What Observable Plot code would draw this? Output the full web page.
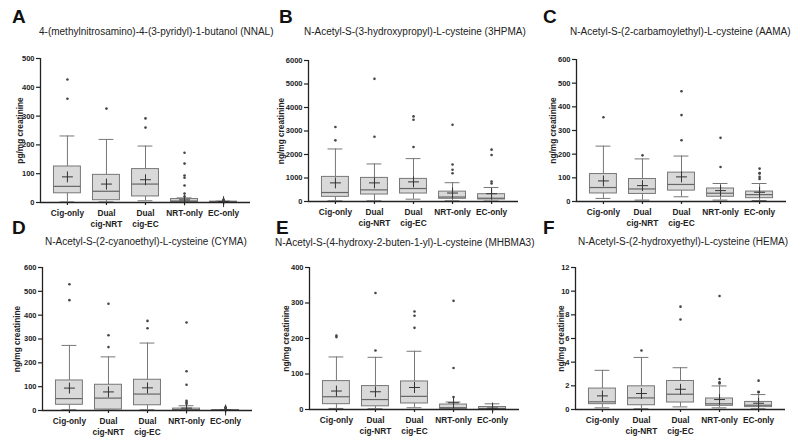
<!DOCTYPE html>
<html>
<head>
<meta charset="utf-8">
<script src="https://cdn.jsdelivr.net/npm/d3@7"></script>
<script src="https://cdn.jsdelivr.net/npm/@observablehq/plot@0.6"></script>
<style>
  html, body { margin: 0; padding: 0; background: #fff; }
  #root { position: relative; width: 800px; height: 440px; overflow: hidden; font-family: "Liberation Sans", Arial, sans-serif; }
  .letter { position: absolute; font-weight: bold; font-size: 19px; color: #111; line-height: 1; }
  .title { position: absolute; font-size: 10px; color: #222; white-space: nowrap; line-height: 1; }
  .panel { position: absolute; }
</style>
</head>
<body>
<div id="root"></div>
<script>
// ---------- data ----------
const groups = ["Cig-only", "Dual\ncig-NRT", "Dual\ncig-EC", "NRT-only", "EC-only"];

const titles = [
  "4-(methylnitrosamino)-4-(3-pyridyl)-1-butanol (NNAL)",
  "N-Acetyl-S-(3-hydroxypropyl)-L-cysteine (3HPMA)",
  "N-Acetyl-S-(2-carbamoylethyl)-L-cysteine (AAMA)",
  "N-Acetyl-S-(2-cyanoethyl)-L-cysteine (CYMA)",
  "N-Acetyl-S-(4-hydroxy-2-buten-1-yl)-L-cysteine (MHBMA3)",
  "N-Acetyl-S-(2-hydroxyethyl)-L-cysteine (HEMA)"
];
const letters = ["A", "B", "C", "D", "E", "F"];
const yLabels = ["pg/mg creatinine", "ng/mg creatinine", "ng/mg creatinine",
                 "ng/mg creatinine", "ng/mg creatinine", "ng/mg creatinine"];
const yMaxes = [500, 6000, 600, 600, 400, 12];
const yTickSteps = [100, 1000, 100, 100, 100, 2];

// per group: [whisker low, Q1, median, Q3, whisker high]
const nnalBox  = [[2, 32, 56, 125, 231], [2, 8, 39, 96, 219], [6, 21, 64, 116, 196], [1, 2, 5, 12, 16], [0, 1, 2, 3, 5]];
const nnalMean = [89, 64, 79, 9, 3];
const nnalOut  = [[360, 427], [326], [260, 292], [21, 31, 59, 86, 94, 135, 173], [5, 8, 10]];

const hpmaBox  = [[28, 198, 382, 1047, 2235], [28, 297, 495, 1004, 1598], [99, 340, 552, 962, 1825], [28, 115, 190, 420, 800], [20, 85, 140, 311, 596]];
const hpmaMean = [792, 792, 835, 360, 330];
const hpmaOut  = [[2602, 3168], [2758, 5219], [2320, 3480, 3621], [1205, 1349, 1574, 3267], [766, 851, 1980, 2207]];

const aamaBox  = [[13, 34, 59, 116, 234], [6, 32, 53, 95, 180], [20, 46, 72, 122, 192], [6, 20, 35, 55, 76], [4, 14, 29, 42, 76]];
const aamaMean = [87, 67, 104, 46, 39];
const aamaOut  = [[356], [195], [259, 365, 466], [146, 269], [95, 104, 118, 120, 139]];

const cymaBox  = [[3, 24, 50, 126, 273], [1, 4, 52, 108, 225], [3, 22, 69, 129, 283], [0, 1, 3, 8, 20], [0, 0, 1, 2, 3]];
const cymaMean = [94, 78, 95, 10, 2];
const cymaOut  = [[463, 530], [266, 316, 448], [345, 376], [28, 34, 41, 108, 165, 369], [8, 10, 14]];

const mhbmaBox  = [[3, 15, 36, 80, 148], [2, 9, 28, 66, 147], [5, 17, 37, 79, 164], [1, 2, 5, 14, 21], [0, 1, 3, 7, 16]];
const mhbmaMean = [52, 50, 62, 19, 4];
const mhbmaOut  = [[204, 208], [166, 328], [230, 264, 276], [35, 117, 306], []];

const hemaBox  = [[0.14, 0.45, 0.65, 1.77, 3.31], [0.06, 0.36, 0.98, 1.96, 4.40], [0.22, 0.59, 1.29, 2.41, 3.53], [0.14, 0.31, 0.48, 0.93, 1.99], [0.06, 0.20, 0.36, 0.64, 1.26]];
const hemaMean = [1.15, 1.35, 1.71, 0.84, 0.53];
const hemaOut  = [[], [4.99], [7.6, 8.69], [2.2, 2.3, 2.58, 9.59], [1.45, 1.5, 2.44]];

const boxes = [nnalBox, hpmaBox, aamaBox, cymaBox, mhbmaBox, hemaBox];
const means = [nnalMean, hpmaMean, aamaMean, cymaMean, mhbmaMean, hemaMean];
const outs  = [nnalOut, hpmaOut, aamaOut, cymaOut, mhbmaOut, hemaOut];

// ---------- layout ----------
const panelPos = [
  {axisX: 40,  topY: 58,  bottomY: 202, labelDx: -20, letterX: 12,  letterY: 7,   titleX: 39,  titleY: 27},
  {axisX: 308, topY: 60,  bottomY: 201, labelDx: -27, letterX: 279, letterY: 7,   titleX: 304, titleY: 27},
  {axisX: 576, topY: 59,  bottomY: 201, labelDx: -23, letterX: 543, letterY: 7,   titleX: 570, titleY: 27},
  {axisX: 42,  topY: 267, bottomY: 410, labelDx: -25, letterX: 12,  letterY: 218, titleX: 45,  titleY: 237},
  {axisX: 309, topY: 267, bottomY: 409, labelDx: -23, letterX: 276, letterY: 218, titleX: 275, titleY: 238},
  {axisX: 575, topY: 267, bottomY: 409, labelDx: -14, letterX: 543, letterY: 218, titleX: 578, titleY: 237}
];

const root = document.getElementById("root");
const xDom = [-0.69, 4.69];
const boxHalf = 0.345, capHalf = 0.19;
const mL = 40, mT = 6, mR = 4, mB = 30, plotW = 210;

for (let p = 0; p < 6; p++) {
  const pos = panelPos[p];
  const rows = boxes[p].map((b, i) => ({i, low: b[0], q1: b[1], med: b[2], q3: b[3], high: b[4], mean: means[p][i]}));
  const outliers = outs[p].flatMap((arr, i) => arr.map(v => ({i, v})));
  const yMax = yMaxes[p];
  const yTicks = d3.range(0, yMax + yTickSteps[p] / 2, yTickSteps[p]);
  const plotH = pos.bottomY - pos.topY;

  const svg = Plot.plot({
    width: mL + plotW + mR,
    height: mT + plotH + mB,
    marginLeft: mL, marginTop: mT, marginRight: mR, marginBottom: mB,
    style: {fontFamily: "'Liberation Sans', Arial, sans-serif", fontSize: "7.5px", fontWeight: "bold", color: "#222", background: "transparent"},
    x: {domain: xDom, axis: null},
    y: {domain: [0, yMax], axis: null},
    marks: [
      // whiskers
      Plot.ruleX(rows, {x: "i", y1: "low", y2: "q1", stroke: "#777", strokeWidth: 1}),
      Plot.ruleX(rows, {x: "i", y1: "q3", y2: "high", stroke: "#777", strokeWidth: 1}),
      Plot.ruleY(rows, {y: "low", x1: d => d.i - capHalf, x2: d => d.i + capHalf, stroke: "#777", strokeWidth: 1}),
      Plot.ruleY(rows, {y: "high", x1: d => d.i - capHalf, x2: d => d.i + capHalf, stroke: "#777", strokeWidth: 1}),
      // boxes
      Plot.rect(rows, {x1: d => d.i - boxHalf, x2: d => d.i + boxHalf, y1: "q1", y2: "q3", fill: "#d9d9d9", stroke: "#777", strokeWidth: 1}),
      Plot.ruleY(rows, {y: "med", x1: d => d.i - boxHalf, x2: d => d.i + boxHalf, stroke: "#666", strokeWidth: 1.2}),
      // means
      Plot.dot(rows, {x: "i", y: "mean", symbol: "plus", r: 3.6, stroke: "#333", strokeWidth: 1}),
      // outliers
      Plot.dot(outliers, {x: "i", y: "v", r: 1.3, fill: "#444", stroke: null}),
      // axes
      Plot.axisY(yTicks, {label: null, tickSize: 4, tickPadding: 2, stroke: "#222", strokeWidth: 1.2, fill: "#222", tickFormat: d => String(d)}),
      Plot.axisX([0, 1, 2, 3, 4], {label: null, tickSize: 3, tickPadding: 3, stroke: "#222", strokeWidth: 1.2, fill: "#222", fontSize: 8.3, lineHeight: 1.3, tickFormat: i => groups[i]}),
      Plot.ruleX([xDom[0]], {y1: 0, y2: yMax, stroke: "#222", strokeWidth: 1.3}),
      Plot.ruleY([0], {stroke: "#222", strokeWidth: 1.3}),
      Plot.text([yLabels[p]], {frameAnchor: "left", rotate: -90, dx: pos.labelDx, textAnchor: "middle", fontSize: 8.3, fill: "#222"})
    ]
  });
  svg.classList.add("panel");
  svg.style.left = (pos.axisX - mL) + "px";
  svg.style.top = (pos.topY - mT) + "px";
  root.appendChild(svg);

  const L = document.createElement("div");
  L.className = "letter";
  L.textContent = letters[p];
  L.style.left = pos.letterX + "px";
  L.style.top = pos.letterY + "px";
  root.appendChild(L);

  const T = document.createElement("div");
  T.className = "title";
  T.textContent = titles[p];
  T.style.left = pos.titleX + "px";
  T.style.top = pos.titleY + "px";
  root.appendChild(T);
}
</script>
</body>
</html>
